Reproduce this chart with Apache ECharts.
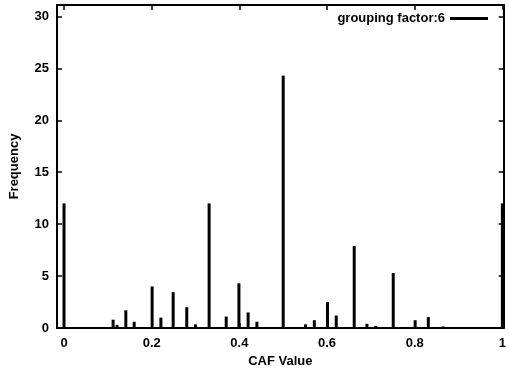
<!DOCTYPE html>
<html>
<head>
<meta charset="utf-8">
<script src="https://cdn.jsdelivr.net/npm/echarts@6/dist/echarts.min.js"></script>
<style>
  html, body { margin: 0; padding: 0; background: #fff; }
  #chart { width: 509px; height: 374px; }
</style>
</head>
<body>
<div id="chart"></div>
<script>
// CAF value of each spike and its frequency
const cafValues = [0, 0.112, 0.121, 0.141, 0.160, 0.201, 0.221, 0.249, 0.280, 0.300,
  0.331, 0.370, 0.399, 0.420, 0.440, 0.500, 0.551, 0.571, 0.601, 0.621,
  0.662, 0.691, 0.711, 0.751, 0.801, 0.831, 0.865, 1.0];
const frequency = [12, 0.8, 0.3, 1.7, 0.6, 4.0, 1.0, 3.45, 2.0, 0.35,
  12, 1.1, 4.3, 1.5, 0.6, 24.3, 0.35, 0.75, 2.5, 1.2,
  7.9, 0.4, 0.2, 5.3, 0.75, 1.05, 0.15, 12];
const xTicks = [0, 0.2, 0.4, 0.6, 0.8, 1];
const yTicks = [0, 5, 10, 15, 20, 25, 30];
const seriesName = 'grouping factor:6';

let chart = echarts.init(document.getElementById('chart'));
let font = 'Liberation Sans';

// frame line, kept where the axis says (no jumping to zero)
let axisLine = { show: true, onZero: false, lineStyle: { color: '#000', width: 2 } };
let tickStyle = { lineStyle: { color: '#000', width: 1.5 } };

chart.setOption({
  animation: false,
  backgroundColor: '#fff',
  grid: { left: 57, right: 5, top: 5, bottom: 46 },
  legend: {
    right: 16,
    top: 7,
    align: 'right',
    icon: 'rect',
    itemWidth: 38,
    itemHeight: 3,
    textStyle: { fontFamily: font, fontWeight: 'bold', fontSize: 13, color: '#000' },
    data: [seriesName]
  },
  xAxis: [
    {
      type: 'value',
      min: -0.016,
      max: 1.003,
      name: 'CAF Value',
      nameLocation: 'middle',
      nameGap: 27,
      nameTextStyle: { fontFamily: font, fontWeight: 'bold', fontSize: 13, color: '#000' },
      axisLine: axisLine,
      axisTick: Object.assign({ show: true, inside: true, length: 5, customValues: xTicks }, tickStyle),
      axisLabel: {
        customValues: xTicks,
        margin: 9,
        fontFamily: font, fontWeight: 'bold', fontSize: 13, color: '#000'
      },
      splitLine: { show: false }
    },
    {
      type: 'value',
      position: 'top',
      min: -0.016,
      max: 1.003,
      axisLine: axisLine,
      axisTick: Object.assign({ show: true, inside: true, length: 5, customValues: xTicks }, tickStyle),
      axisLabel: { show: false },
      splitLine: { show: false }
    }
  ],
  yAxis: [
    {
      type: 'value',
      min: 0,
      max: 31.1,
      name: 'Frequency',
      nameLocation: 'middle',
      nameGap: 36,
      nameTextStyle: { fontFamily: font, fontWeight: 'bold', fontSize: 13, color: '#000' },
      axisLine: axisLine,
      axisTick: Object.assign({ show: true, inside: true, length: 5, customValues: yTicks }, tickStyle),
      axisLabel: {
        customValues: yTicks,
        margin: 8,
        fontFamily: font, fontWeight: 'bold', fontSize: 13, color: '#000'
      },
      splitLine: { show: false }
    },
    {
      type: 'value',
      position: 'right',
      min: 0,
      max: 31.1,
      axisLine: axisLine,
      axisTick: Object.assign({ show: true, inside: true, length: 5, customValues: yTicks }, tickStyle),
      axisLabel: { show: false },
      splitLine: { show: false }
    }
  ],
  series: [
    {
      name: seriesName,
      type: 'bar',
      xAxisIndex: 0,
      yAxisIndex: 0,
      barWidth: 3,
      itemStyle: { color: '#000' },
      data: cafValues.map((v, i) => [v, frequency[i]])
    }
  ]
});
</script>
</body>
</html>
